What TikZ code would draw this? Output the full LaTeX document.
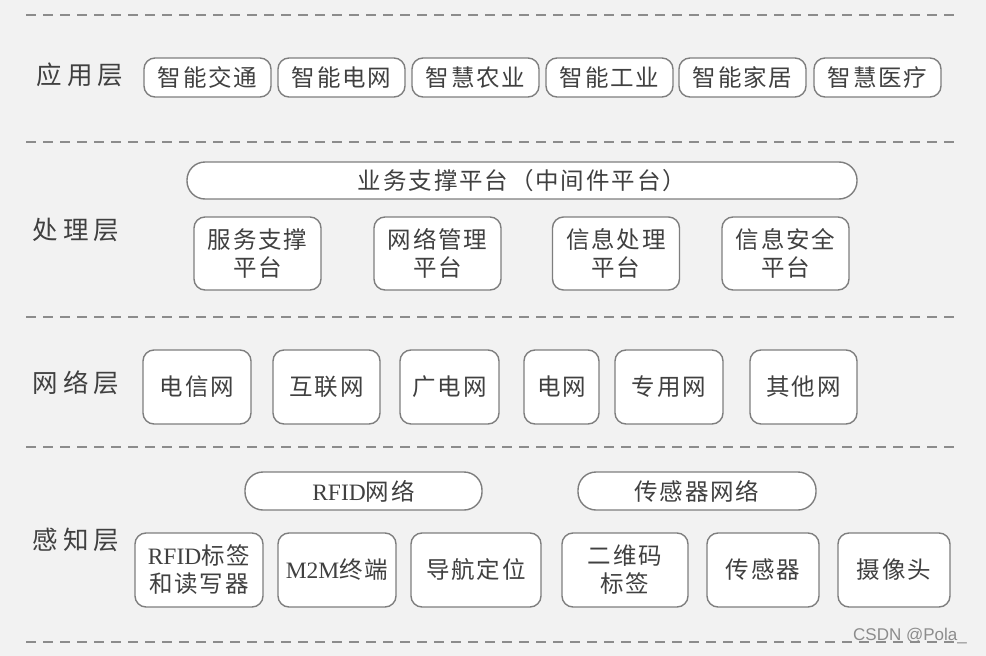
\documentclass[tikz,border=0pt]{standalone}
\usepackage{fontspec}
\setmainfont{Liberation Serif}
\newfontfamily\cjk[LetterSpace=8]{Noto Sans CJK SC}
\newfontfamily\cjklab[LetterSpace=20]{Noto Sans CJK SC}
\newfontfamily\wmfont{Liberation Sans}
\definecolor{bg}{HTML}{F2F2F2}
\definecolor{txt}{HTML}{404040}
\definecolor{bord}{HTML}{7E7E7E}
\definecolor{dash}{HTML}{8C8C8C}
\begin{document}
\begin{tikzpicture}[x=1pt,y=-1pt,
  box/.style={draw=bord, line width=1.4pt, fill=white, rounded corners=11pt,
    text=txt, font=\cjk\fontsize{23.5}{28}\selectfont, align=center, inner sep=0pt},
  pill/.style={box, rounded corners=18pt},
  layerlabel/.style={text=txt, font=\cjklab\fontsize{25.5}{30}\selectfont, inner sep=0pt},
  sep/.style={draw=dash, line width=2pt, dash pattern=on 10pt off 7pt}]
\path[fill=bg] (0,0) rectangle (986,656);
% separators
\foreach \yy in {15,141.5,316.5,447,641.5}
  \draw[sep] (26,\yy) -- (955,\yy);
% application layer
\node[layerlabel] (lapp) at (80,75) {应用层};
\foreach \cx/\t/\n in {207.5/智能交通/a1,341.5/智能电网/a2,475.5/智慧农业/a3,609.5/智能工业/a4,742.5/智能家居/a5,877.5/智慧医疗/a6}
  \node[box, minimum width=127pt, minimum height=39pt] (\n) at (\cx,77.5) {\t};
% processing layer
\node[layerlabel] (lproc) at (76,230) {处理层};
\node[pill, minimum width=670pt, minimum height=37pt] (plat) at (522,180.5) {业务支撑平台（中间件平台）};
\foreach \cx/\t/\n in {257.5/服务支撑\\平台/p1,437.5/网络管理\\平台/p2,616/信息处理\\平台/p3,785.5/信息安全\\平台/p4}
  \node[box, minimum width=127pt, minimum height=73pt] (\n) at (\cx,253.5) {\t};
% network layer
\node[layerlabel] (lnet) at (76,383) {网络层};
\foreach \cx/\w/\t/\n in {197/108/电信网/n1,326.5/107/互联网/n2,449.5/99/广电网/n3,561.5/75/电网/n4,669/108/专用网/n5,803.5/107/其他网/n6}
  \node[box, minimum width=\w pt, minimum height=74pt] (\n) at (\cx,387) {\t};
% perception layer
\node[layerlabel] (lper) at (76,540) {感知层};
\node[pill, minimum width=237pt, minimum height=38pt] (rfidnet) at (363.5,491) {{\rmfamily RFID}网络};
\node[pill, minimum width=238pt, minimum height=38pt] (sensnet) at (697,491) {传感器网络};
\node[box, minimum width=128pt, minimum height=74pt] (s1) at (199,570) {{\rmfamily RFID}标签\\和读写器};
\node[box, minimum width=118pt, minimum height=74pt] (s2) at (337,570) {{\rmfamily M2M}终端};
\node[box, minimum width=130pt, minimum height=74pt] (s3) at (476,570) {导航定位};
\node[box, minimum width=126pt, minimum height=74pt] (s4) at (625,570) {二维码\\标签};
\node[box, minimum width=112pt, minimum height=74pt] (s5) at (763,570) {传感器};
\node[box, minimum width=112pt, minimum height=74pt] (s6) at (894,570) {摄像头};
% watermark
\node[text=dash, font=\wmfont\fontsize{17}{20}\selectfont, inner sep=0pt] (wm) at (910,636) {CSDN @Pola\_};
\end{tikzpicture}
\end{document}
